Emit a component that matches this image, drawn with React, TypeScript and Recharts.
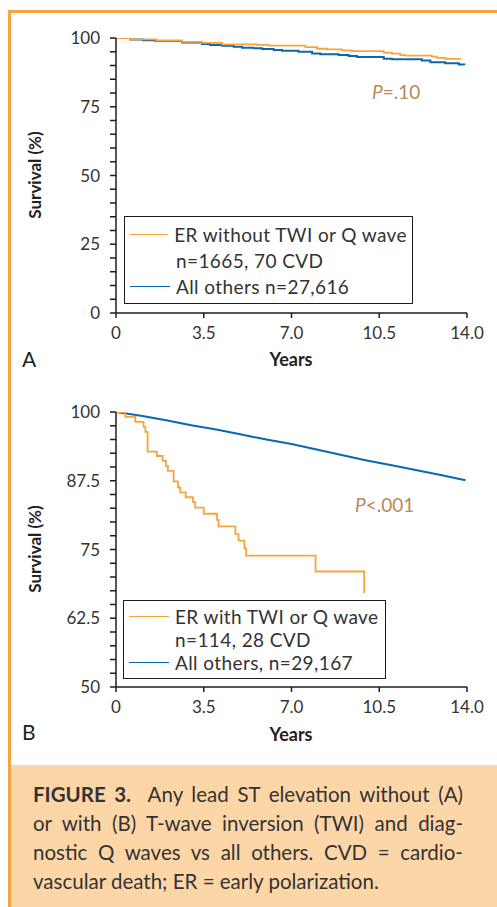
import React from "react"
import { LineChart, Line, XAxis, YAxis } from "recharts"

// Kaplan-Meier curves, survival (%) by follow-up years
const erNoTwi = [
  { t: 0, s: 100 }, { t: 0.57, s: 99.5 }, { t: 1.6, s: 99.1 }, { t: 2.63, s: 98.6 },
  { t: 3.43, s: 98.2 }, { t: 4.23, s: 97.7 }, { t: 5.62, s: 97.5 }, { t: 6.09, s: 97.2 },
  { t: 7.55, s: 96.7 }, { t: 8.02, s: 96.1 }, { t: 8.42, s: 95.9 }, { t: 9.02, s: 95.5 },
  { t: 9.41, s: 95.2 }, { t: 10.68, s: 94.7 }, { t: 11.01, s: 94.3 }, { t: 11.34, s: 93.8 },
  { t: 11.54, s: 93.6 }, { t: 12.6, s: 93.2 }, { t: 12.8, s: 92.8 }, { t: 13.13, s: 92.4 },
  { t: 13.76, s: 92.4 },
]

const othersA = [
  { t: 0, s: 100 }, { t: 0.57, s: 99.5 }, { t: 1.08, s: 99.2 }, { t: 1.57, s: 98.9 },
  { t: 2.63, s: 98.4 }, { t: 3.43, s: 97.8 }, { t: 3.76, s: 97.5 }, { t: 4.23, s: 97.2 },
  { t: 4.69, s: 96.8 }, { t: 5.03, s: 96.5 }, { t: 5.49, s: 96.3 }, { t: 5.82, s: 96.0 },
  { t: 6.29, s: 95.6 }, { t: 6.62, s: 95.4 }, { t: 7.28, s: 95.0 }, { t: 7.82, s: 94.4 },
  { t: 8.15, s: 94.1 }, { t: 8.88, s: 93.8 }, { t: 9.28, s: 93.5 }, { t: 9.61, s: 93.1 },
  { t: 10.68, s: 92.5 }, { t: 11.0, s: 92.3 }, { t: 12.2, s: 91.8 }, { t: 12.54, s: 91.2 },
  { t: 13.13, s: 90.8 }, { t: 13.67, s: 90.4 }, { t: 13.9, s: 90.2 },
]

const erTwi = [
  { t: 0, s: 100 }, { t: 0.37, s: 99.1 }, { t: 0.77, s: 98.2 }, { t: 1.1, s: 97.3 },
  { t: 1.17, s: 96.4 }, { t: 1.26, s: 92.8 }, { t: 1.63, s: 92.0 }, { t: 1.86, s: 91.1 },
  { t: 1.99, s: 90.2 }, { t: 2.07, s: 89.3 }, { t: 2.3, s: 87.4 }, { t: 2.47, s: 86.3 },
  { t: 2.56, s: 85.4 }, { t: 2.78, s: 84.5 }, { t: 3.07, s: 83.6 }, { t: 3.16, s: 82.6 },
  { t: 3.5, s: 81.5 }, { t: 4.03, s: 80.4 }, { t: 4.09, s: 79.2 }, { t: 4.76, s: 77.8 },
  { t: 4.89, s: 76.6 }, { t: 5.12, s: 75.2 }, { t: 5.19, s: 73.9 }, { t: 7.96, s: 71.0 },
  { t: 9.9, s: 67.1 },
]

const othersB = [
  { t: 0, s: 100 }, { t: 1, s: 99.3 }, { t: 2, s: 98.5 }, { t: 3, s: 97.6 },
  { t: 4, s: 96.8 }, { t: 5, s: 95.9 }, { t: 6, s: 95.0 }, { t: 7, s: 94.2 },
  { t: 8, s: 93.2 }, { t: 9, s: 92.2 }, { t: 10, s: 91.2 }, { t: 11, s: 90.3 },
  { t: 12, s: 89.4 }, { t: 13, s: 88.5 }, { t: 13.94, s: 87.6 },
]

const yearTicks = [0, 3.5, 7, 10.5, 14]
const yearLabels = ["0", "3.5", "7.0", "10.5", "14.0"]
const ticksA = [0, 5, 10, 15, 20, 25, 30, 35, 40, 45, 50, 55, 60, 65, 70, 75, 80, 85, 90, 95, 100]
const majorA = [0, 25, 50, 75, 100]
const ticksB = [50, 52.5, 55, 57.5, 60, 62.5, 65, 67.5, 70, 72.5, 75, 77.5, 80, 82.5, 85, 87.5, 90, 92.5, 95, 97.5, 100]
const majorB = [50, 62.5, 75, 87.5, 100]

const legendA = ["ER without TWI or Q wave", "n=1665, 70 CVD", "All others n=27,616"]
const legendB = ["ER with TWI or Q wave", "n=114, 28 CVD", "All others, n=29,167"]

const ORANGE = "#f7a43e"
const BLUE = "#0b68b0"
const AXIS = "#1e1e1e"
const FONT = "Lato, 'Open Sans', sans-serif"

function LegendBox({ labels, rowGap, left, top, width }: { labels: string[]; rowGap: number; left: number; top: number; width: number }) {
  const row = (color: string | null, text: string) => (
    <div style={{ display: "flex", alignItems: "center", height: rowGap }}>
      <div style={{ width: 40, height: 0, borderTop: color ? `1.5px solid ${color}` : "none", marginRight: 6 }} />
      <span style={{ whiteSpace: "nowrap" }}>{text}</span>
    </div>
  )
  return (
    <div
      style={{
        position: "absolute",
        left,
        top,
        width,
        border: "1.5px solid #1e1e1e",
        background: "#fff",
        padding: "4px 5px",
        fontFamily: FONT,
        fontSize: 19,
        letterSpacing: 0.4,
        color: "#333",
        boxSizing: "border-box",
      }}
    >
      {row(ORANGE, labels[0])}
      {row(null, labels[1])}
      {row(BLUE, labels[2])}
    </div>
  )
}

function Panel({
  orange,
  blue,
  blueType,
  ticks,
  major,
  domain,
}: {
  orange: { t: number; s: number }[]
  blue: { t: number; s: number }[]
  blueType: "stepAfter" | "linear"
  ticks: number[]
  major: number[]
  domain: [number, number]
}) {
  return (
    <LineChart width={497} height={350} margin={{ top: 38, right: 30, left: 56, bottom: 7 }}>
      <XAxis
        type="number"
        dataKey="t"
        domain={[0, 14]}
        ticks={yearTicks}
        interval={0}
        tickFormatter={(v: number) => yearLabels[yearTicks.indexOf(v)] ?? ""}
        allowDataOverflow
        height={30}
        stroke={AXIS}
        strokeWidth={1.5}
        tickSize={5}
        tickMargin={9}
        tick={{ fontSize: 17, fill: "#333", fontFamily: FONT }}
      />
      <YAxis
        type="number"
        dataKey="s"
        domain={domain}
        ticks={ticks}
        interval={0}
        allowDataOverflow
        tickFormatter={(v: number) => (major.includes(v) ? String(v) : "")}
        width={60}
        stroke={AXIS}
        strokeWidth={1.5}
        tickSize={6}
        tickMargin={10}
        tick={{ fontSize: 17, fill: "#333", fontFamily: FONT }}
      />
      <Line
        data={blue}
        dataKey="s"
        type={blueType}
        stroke={BLUE}
        strokeWidth={2}
        dot={false}
        isAnimationActive={false}
      />
      <Line
        data={orange}
        dataKey="s"
        type="stepAfter"
        stroke={ORANGE}
        strokeWidth={1.8}
        dot={false}
        isAnimationActive={false}
      />
    </LineChart>
  )
}

const textStyle: React.CSSProperties = { position: "absolute", fontFamily: FONT, whiteSpace: "nowrap" }

export default function App() {
  return (
    <div style={{ position: "absolute", left: 0, top: 0, width: 497, height: 907, background: "#fff", overflow: "hidden", fontFamily: FONT }}>
      {/* orange frame */}
      <div style={{ position: "absolute", left: 8, top: 10, width: 489, height: 3, background: ORANGE }} />
      <div style={{ position: "absolute", left: 8, top: 10, width: 3, height: 897, background: ORANGE }} />

      <div style={{ position: "absolute", left: 0, top: 0 }}>
        <Panel orange={erNoTwi} blue={othersA} blueType="stepAfter" ticks={ticksA} major={majorA} domain={[0, 100]} />
      </div>
      <div style={{ position: "absolute", left: 0, top: 374 }}>
        <Panel orange={erTwi} blue={othersB} blueType="linear" ticks={ticksB} major={majorB} domain={[50, 100]} />
      </div>

      <LegendBox labels={legendA} rowGap={26} left={124} top={216} width={289} />
      <LegendBox labels={legendB} rowGap={23} left={123} top={600} width={263} />

      {/* axis titles and panel letters */}
      <div style={{ ...textStyle, left: 34, top: 175, transform: "translate(-50%, -50%) rotate(-90deg)", fontSize: 17, fontWeight: 700, color: "#222" }}>Survival (%)</div>
      <div style={{ ...textStyle, left: 34, top: 549, transform: "translate(-50%, -50%) rotate(-90deg)", fontSize: 17, fontWeight: 700, color: "#222" }}>Survival (%)</div>
      <div style={{ ...textStyle, left: 291, top: 359, transform: "translate(-50%, -50%)", fontSize: 18, fontWeight: 700, color: "#222" }}>Years</div>
      <div style={{ ...textStyle, left: 291, top: 734, transform: "translate(-50%, -50%)", fontSize: 18, fontWeight: 700, color: "#222" }}>Years</div>
      <div style={{ ...textStyle, left: 22, top: 346, fontSize: 21, color: "#222" }}>A</div>
      <div style={{ ...textStyle, left: 22, top: 719, fontSize: 21, color: "#222" }}>B</div>

      {/* p values */}
      <div style={{ ...textStyle, left: 372, top: 80, fontSize: 19, color: "#b9885c" }}>
        <i>P</i>=.10
      </div>
      <div style={{ ...textStyle, left: 355, top: 493, fontSize: 19, color: "#b9885c" }}>
        <i>P</i>&lt;.001
      </div>

      {/* caption */}
      <div style={{ position: "absolute", left: 11, top: 765, width: 486, height: 142, background: "#fdd6a8" }} />
      <div style={{ position: "absolute", left: 33, top: 780, width: 430, fontSize: 20.5, lineHeight: "29px", color: "#333", fontFamily: FONT }}>
        <div style={{ textAlignLast: "justify", whiteSpace: "nowrap" }}>
          <b>FIGURE 3.</b>&nbsp; Any lead ST elevation without (A)
        </div>
        <div style={{ textAlignLast: "justify", whiteSpace: "nowrap" }}>or with (B) T-wave inversion (TWI) and diag-</div>
        <div style={{ textAlignLast: "justify", whiteSpace: "nowrap" }}>nostic Q waves vs all others. CVD = cardio-</div>
        <div style={{ whiteSpace: "nowrap" }}>vascular death; ER = early polarization.</div>
      </div>
    </div>
  )
}
